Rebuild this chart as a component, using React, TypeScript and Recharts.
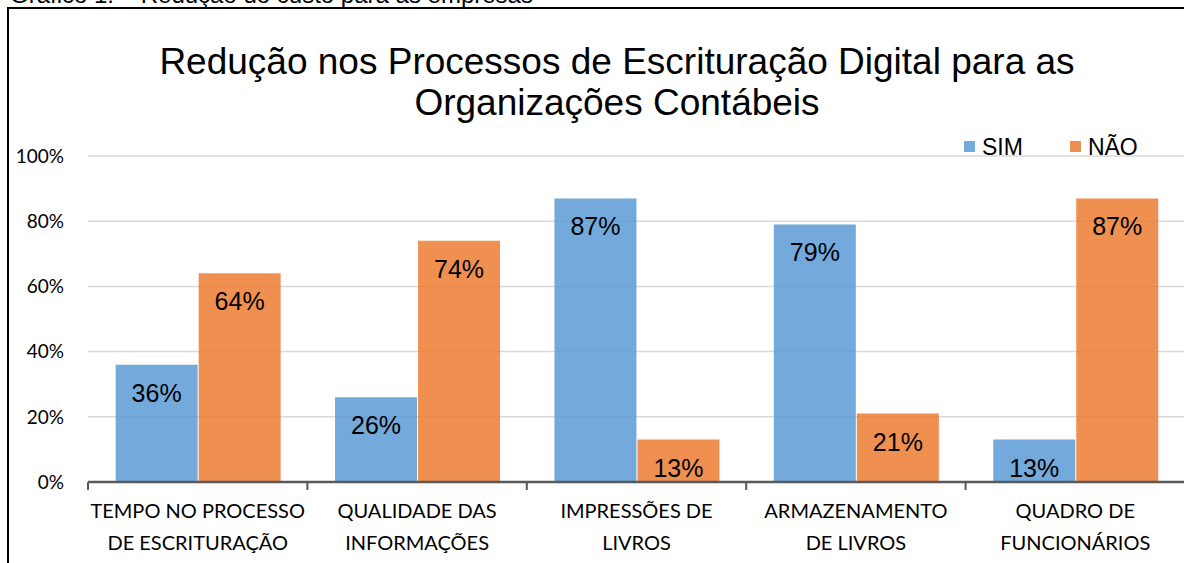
import { Bar, BarChart, CartesianGrid, LabelList, XAxis, YAxis } from "recharts";

const categories = [
  ["TEMPO NO PROCESSO", "DE ESCRITURAÇÃO"],
  ["QUALIDADE DAS", "INFORMAÇÕES"],
  ["IMPRESSÕES DE", "LIVROS"],
  ["ARMAZENAMENTO", "DE LIVROS"],
  ["QUADRO DE", "FUNCIONÁRIOS"],
];
const simValues = [36, 26, 87, 79, 13];
const naoValues = [64, 74, 13, 21, 87];
const yTicks = [0, 20, 40, 60, 80, 100];

const palette = {
  sim: "#5b9bd5",
  nao: "#ed7d31",
  grid: "#d9d9d9",
  axis: "#595959",
};

const arial = "'Liberation Sans', Arial, sans-serif";
const calibriLike = "Lato, 'Open Sans', sans-serif";

const PLOT_LEFT = 88;
const PLOT_WIDTH = 1097;
const BAND = PLOT_WIDTH / categories.length;

const data = categories.map((lines, i) => ({
  name: lines.join(" "),
  lines,
  sim: simValues[i],
  nao: naoValues[i],
}));

function CategoryTick(props: any) {
  const { x, y, payload, index } = props;
  const lines = data[index]?.lines ?? [String(payload.value)];
  const left = x - BAND / 2;
  return (
    <g>
      <line x1={left} x2={left} y1={y - 8} y2={y} stroke={palette.axis} strokeWidth={2} />
      {index === categories.length - 1 && (
        <line x1={left + BAND} x2={left + BAND} y1={y - 8} y2={y} stroke={palette.axis} strokeWidth={2} />
      )}
      {lines.map((line: string, i: number) => (
        <text
          key={i}
          x={x}
          y={y + 20 + i * 32}
          textAnchor="middle"
          dominantBaseline="central"
          fontFamily={calibriLike}
          fontSize={20}
          fill="#000"
        >
          {line}
        </text>
      ))}
    </g>
  );
}

function ValueLabel(props: any) {
  const { x, y, width, value } = props;
  return (
    <text
      x={x + width / 2}
      y={y + 28}
      textAnchor="middle"
      dominantBaseline="central"
      fontFamily={arial}
      fontSize={25}
      fill="#000"
    >
      {value}%
    </text>
  );
}

function LegendBox() {
  const item = (color: string, label: string, gap: number) => (
    <span style={{ display: "inline-flex", alignItems: "center", marginRight: gap }}>
      <span style={{ width: 11, height: 11, background: color, opacity: 0.85, marginRight: 7 }} />
      <span>{label}</span>
    </span>
  );
  return (
    <div style={{ fontFamily: arial, fontSize: 23, lineHeight: "26px", whiteSpace: "nowrap" }}>
      {item(palette.sim, "SIM", 47)}
      {item(palette.nao, "NÃO", 0)}
    </div>
  );
}

export default function App() {
  return (
    <div style={{ position: "fixed", left: 0, top: 0, width: 1184, height: 563, overflow: "hidden", background: "#fff" }}>
      <div
        style={{
          position: "absolute",
          left: 10,
          top: -18,
          fontFamily: arial,
          fontSize: 24,
          lineHeight: "26px",
          whiteSpace: "nowrap",
        }}
      >
        Gráfico 1: – Redução do custo para as empresas
      </div>
      <div
        style={{
          position: "absolute",
          left: 7,
          top: 7,
          width: 1240,
          height: 620,
          border: "2px solid #000",
          boxSizing: "border-box",
        }}
      />
      <div
        style={{
          position: "absolute",
          left: 0,
          top: 41,
          width: 1234,
          textAlign: "center",
          fontFamily: arial,
          fontSize: 37,
          lineHeight: "41px",
        }}
      >
        Redução nos Processos de Escrituração Digital para as
        <br />
        Organizações Contábeis
      </div>
      <div style={{ position: "absolute", left: 964, top: 131 }}>
        <LegendBox />
      </div>
      <div style={{ position: "absolute", left: 0, top: 0 }}>
        <BarChart
          width={PLOT_LEFT + PLOT_WIDTH}
          height={563}
          data={data}
          margin={{ top: 156, right: 0, bottom: 0, left: 0 }}
          barCategoryGap="12.6%"
          barGap={1}
        >
          <CartesianGrid vertical={false} stroke={palette.grid} strokeWidth={1.5} />
          <XAxis
            dataKey="name"
            interval={0}
            height={81}
            tickLine={false}
            axisLine={{ stroke: palette.axis, strokeWidth: 2.5 }}
            tick={<CategoryTick />}
          />
          <YAxis
            width={PLOT_LEFT}
            domain={[0, 100]}
            ticks={yTicks}
            axisLine={false}
            tickLine={false}
            tickFormatter={(v) => `${v}%`}
            tick={{ fontFamily: calibriLike, fontSize: 19, fill: "#000" }}
            tickMargin={18}
          />
          <Bar dataKey="sim" name="SIM" fill={palette.sim} fillOpacity={0.85} isAnimationActive={false}>
            <LabelList dataKey="sim" content={<ValueLabel />} />
          </Bar>
          <Bar dataKey="nao" name="NÃO" fill={palette.nao} fillOpacity={0.85} isAnimationActive={false}>
            <LabelList dataKey="nao" content={<ValueLabel />} />
          </Bar>
        </BarChart>
      </div>
    </div>
  );
}
